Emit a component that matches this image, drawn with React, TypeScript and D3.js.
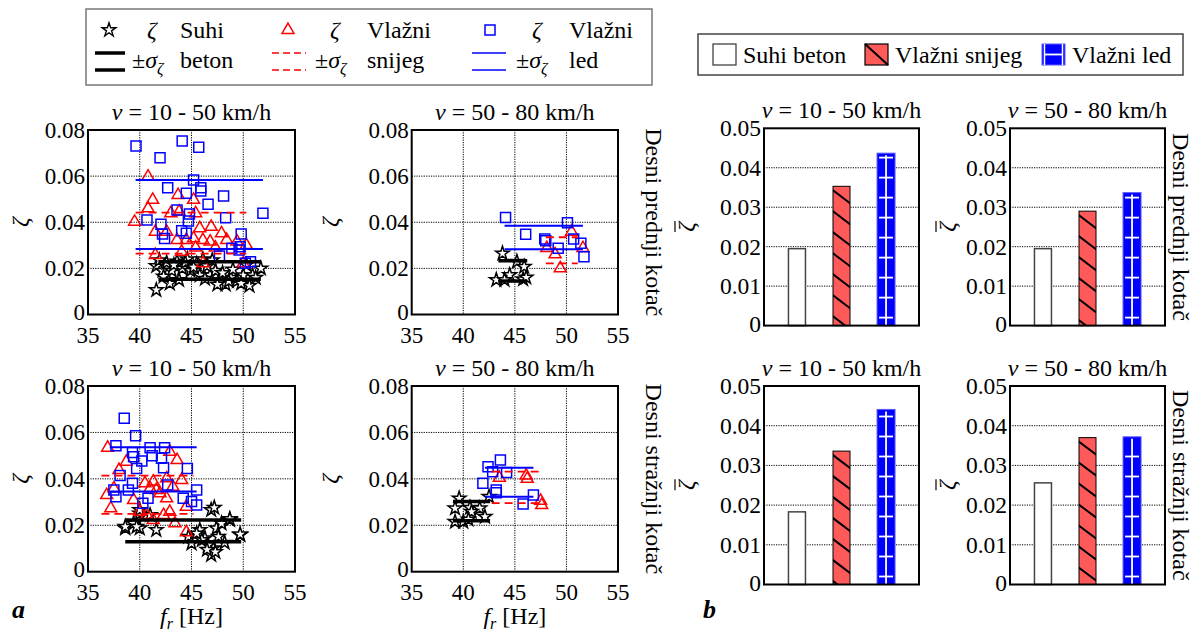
import React from 'react';
import * as d3 from 'd3';

// ---------- DATA ----------
// scatter points [f_r (Hz), zeta]; panels: frontLow (prednji, 10-50), frontHigh (prednji, 50-80), rearLow, rearHigh
const suhiFrontLow: [number, number][] = [
  [41.6, 0.0106], [42.9, 0.0135], [41.6, 0.021], [42.2, 0.019], [42.6, 0.0225], [43.1, 0.019], [43.6, 0.023],
  [44.1, 0.020], [44.6, 0.024], [44.9, 0.019], [45.5, 0.022], [46.1, 0.024], [46.8, 0.017], [47.3, 0.019],
  [47.8, 0.015], [48.3, 0.013], [48.8, 0.016], [49.4, 0.0145], [50.0, 0.017], [50.6, 0.0125], [50.9, 0.017],
  [51.7, 0.020], [42.3, 0.0165], [43.8, 0.015], [45.8, 0.017], [47.5, 0.013], [41.9, 0.0235], [43.3, 0.0215],
  [44.4, 0.0225], [45.2, 0.0205], [46.5, 0.021], [47.0, 0.0235], [48.0, 0.018], [49.0, 0.0195], [50.3, 0.0215],
  [51.2, 0.016], [49.8, 0.0135], [48.6, 0.0145], [46.3, 0.0155],
];
const snijegFrontLow: [number, number][] = [
  [40.8, 0.0598], [41.25, 0.0497], [40.8, 0.046], [39.5, 0.0402], [43.7, 0.0518], [45.2, 0.0497], [43.8, 0.0446],
  [43.0, 0.0439], [45.4, 0.0439], [46.9, 0.038], [41.5, 0.0359], [42.6, 0.0359], [45.8, 0.0374], [43.6, 0.0323],
  [44.5, 0.0323], [45.2, 0.033], [46.1, 0.0323], [46.8, 0.0316], [47.9, 0.0352], [48.4, 0.0323], [49.4, 0.0316],
  [50.3, 0.0301], [41.5, 0.0258], [46.1, 0.0222], [50.0, 0.0222], [44.05, 0.0272], [45.4, 0.029], [47.3, 0.029],
];
const ledFrontLow: [number, number][] = [
  [39.64, 0.0731], [41.96, 0.068], [44.1, 0.0752], [45.7, 0.0725], [45.2, 0.0583], [42.7, 0.055], [45.9, 0.055],
  [45.9, 0.0535], [44.5, 0.0526], [46.6, 0.0478], [48.1, 0.0514], [43.6, 0.0453], [44.8, 0.0436], [40.7, 0.041],
  [42.05, 0.0391], [44.7, 0.0405], [48.3, 0.042], [51.9, 0.0439], [42.2, 0.0349], [42.4, 0.033], [44.05, 0.0363],
  [44.5, 0.0352], [49.8, 0.0349], [48.9, 0.0287], [49.7, 0.0294], [49.6, 0.028], [47.7, 0.0254], [50.2, 0.0222],
  [50.7, 0.0229],
];
const suhiFrontHigh: [number, number][] = [
  [43.8, 0.0265], [45.2, 0.0229], [45.9, 0.0207], [44.5, 0.0171], [43.2, 0.015], [44.0, 0.015], [45.8, 0.0153],
  [46.1, 0.0161],
];
const snijegFrontHigh: [number, number][] = [
  [50.5, 0.0359], [48.1, 0.0288], [48.9, 0.0261], [49.4, 0.02], [51.6, 0.0288],
];
const ledFrontHigh: [number, number][] = [
  [44.1, 0.0421], [46.05, 0.0348], [47.9, 0.0327], [48.0, 0.032], [49.2, 0.0287], [50.1, 0.0398], [50.7, 0.0327],
  [51.4, 0.0309], [51.7, 0.025],
];
const suhiRearLow: [number, number][] = [
  [38.6, 0.0187], [39.4, 0.0208], [40.0, 0.0187], [41.6, 0.018], [40.0, 0.0251], [41.0, 0.0244], [44.7, 0.0151],
  [45.8, 0.018], [45.0, 0.0122], [46.3, 0.0144], [46.9, 0.0266], [47.4, 0.0187], [47.1, 0.0101], [46.9, 0.0072],
  [47.6, 0.0151], [48.7, 0.0223], [49.7, 0.0158], [47.9, 0.0208], [46.6, 0.0115], [46.0, 0.0137], [47.2, 0.0276],
  [48.7, 0.0227], [49.7, 0.0161], [38.6, 0.0194], [39.7, 0.0194], [40.0, 0.0266], [47.3, 0.0085], [46.5, 0.0095],
  [45.5, 0.0165], [48.2, 0.0125],
];
const snijegRearLow: [number, number][] = [
  [36.9, 0.0534], [38.0, 0.0438], [38.7, 0.0474], [37.5, 0.0359], [37.2, 0.0273], [40.5, 0.0381], [41.3, 0.0388],
  [41.0, 0.0359], [41.95, 0.0338], [42.6, 0.0402], [43.6, 0.0481], [42.9, 0.0517], [44.05, 0.0395], [39.4, 0.0309],
  [40.0, 0.0258], [40.7, 0.0244], [41.3, 0.0223], [42.3, 0.0244], [42.9, 0.0258], [43.4, 0.0208], [44.5, 0.017],
  [42.6, 0.0316], [44.5, 0.028], [36.8, 0.033], [41.6, 0.0352], [43.2, 0.0366],
];
const ledRearLow: [number, number][] = [
  [38.5, 0.0661], [39.6, 0.0586], [37.7, 0.0543], [39.3, 0.0513], [39.4, 0.0495], [41.0, 0.0534], [41.2, 0.05],
  [40.2, 0.0477], [39.7, 0.0445], [42.4, 0.0534], [42.1, 0.0489], [42.3, 0.0448], [44.6, 0.0445], [38.1, 0.0414],
  [37.5, 0.0352], [37.7, 0.0323], [38.9, 0.0352], [39.3, 0.0381], [40.3, 0.0295], [40.8, 0.0316], [42.7, 0.0374],
  [44.2, 0.0316], [45.0, 0.0302], [45.5, 0.0352], [45.5, 0.0287],
];
const suhiRearHigh: [number, number][] = [
  [39.6, 0.0316], [39.2, 0.0273], [40.65, 0.0276], [41.6, 0.0273], [39.2, 0.0215], [40.0, 0.0215], [40.8, 0.0258],
  [42.1, 0.0237], [42.5, 0.0323], [40.5, 0.0225],
];
const snijegRearHigh: [number, number][] = [
  [43.5, 0.0405], [46.1, 0.0414], [46.2, 0.04], [47.5, 0.0305], [47.6, 0.0287],
];
const ledRearHigh: [number, number][] = [
  [42.4, 0.0452], [43.6, 0.0481], [42.85, 0.0431], [44.2, 0.0427], [41.9, 0.0381], [43.2, 0.0352], [43.2, 0.034],
  [45.8, 0.0292], [46.8, 0.033],
];

// ±sigma bands per panel [fStart, fEnd, lower, upper] (order: frontLow, frontHigh, rearLow, rearHigh)
const sigmaSuhi = [[41.8, 51.7, 0.0153, 0.0229], [43.4, 46.2, 0.0145, 0.0233], [38.6, 49.8, 0.0129, 0.0223], [39.0, 42.6, 0.022, 0.0302]];
const sigmaSnijeg = [[39.6, 50.3, 0.0264, 0.0442], [48.0, 51.1, 0.0222, 0.0335], [36.3, 45.2, 0.0249, 0.0414], [42.75, 47.6, 0.0295, 0.0431]];
const sigmaLed = [[39.6, 51.9, 0.0284, 0.0583], [44.0, 51.6, 0.0283, 0.0385], [37.1, 45.5, 0.0345, 0.0536], [42.1, 46.8, 0.0323, 0.0448]];

const xTicks = [35, 40, 45, 50, 55];
const yTicksScatter = [0, 0.02, 0.04, 0.06, 0.08];
const yTicksBar = [0, 0.01, 0.02, 0.03, 0.04, 0.05];

// bar chart mean zeta
const barCategories = ['Suhi beton', 'Vlažni snijeg', 'Vlažni led'];
const barFrontLow = [0.0195, 0.0353, 0.0437];
const barFrontHigh = [0.0195, 0.029, 0.0337];
const barRearLow = [0.0183, 0.0336, 0.0441];
const barRearHigh = [0.0256, 0.0370, 0.0372];

const speedTitles = ['10 - 50 km/h', '50 - 80 km/h'];
const wheelTitles = ['Desni prednji kotač', 'Desni stražnji kotač'];

// ---------- STYLE ----------
const FONT = "'Liberation Serif', 'Times New Roman', serif";
const RED = '#ff0000';
const BLUE = '#0000ff';
const SNOW = '#ff5a5a';

type Box = { x0: number; x1: number; y0: number; y1: number };

const scatterBoxes: Box[] = [
  { x0: 88, x1: 295, y0: 130, y1: 314.5 },
  { x0: 411.7, x1: 618, y0: 130, y1: 314.5 },
  { x0: 88, x1: 295, y0: 386, y1: 571.7 },
  { x0: 411.7, x1: 618, y0: 386, y1: 571.7 },
];
const barBoxes: Box[] = [
  { x0: 764, x1: 919, y0: 128.3, y1: 325.6 },
  { x0: 1010, x1: 1165, y0: 128.3, y1: 325.6 },
  { x0: 764, x1: 919, y0: 386, y1: 584.5 },
  { x0: 1010, x1: 1165, y0: 386, y1: 584.5 },
];

const starPath = d3.symbol().type(d3.symbolStar).size(58)()!;
const triPath = d3.symbol().type(d3.symbolTriangle).size(62)()!;
const sqPath = d3.symbol().type(d3.symbolSquare).size(100)()!;

function Title({ cx, y, text }: { cx: number; y: number; text: string }) {
  return (
    <text x={cx} y={y} textAnchor="middle" fontSize={24} fontFamily={FONT}>
      <tspan fontStyle="italic">v</tspan> = {text}
    </text>
  );
}

function ScatterPanel({ box, idx }: { box: Box; idx: number }) {
  const x = d3.scaleLinear().domain([35, 55]).range([box.x0, box.x1]);
  const y = d3.scaleLinear().domain([0, 0.08]).range([box.y1, box.y0]);
  const sets = [
    [suhiFrontLow, snijegFrontLow, ledFrontLow],
    [suhiFrontHigh, snijegFrontHigh, ledFrontHigh],
    [suhiRearLow, snijegRearLow, ledRearLow],
    [suhiRearHigh, snijegRearHigh, ledRearHigh],
  ][idx];
  const row = idx < 2 ? 0 : 1;
  const col = idx % 2;
  const sS = sigmaSuhi[idx];
  const sN = sigmaSnijeg[idx];
  const sL = sigmaLed[idx];
  return (
    <g fontFamily={FONT}>
      {xTicks.slice(1, -1).map((t) => (
        <line key={'gx' + t} x1={x(t)} x2={x(t)} y1={box.y0} y2={box.y1} stroke="#000" strokeWidth={1} strokeDasharray="1.2 1.2" />
      ))}
      {yTicksScatter.slice(1, -1).map((t) => (
        <line key={'gy' + t} x1={box.x0} x2={box.x1} y1={y(t)} y2={y(t)} stroke="#000" strokeWidth={1} strokeDasharray="1.2 1.2" />
      ))}
      {sets[0].map((d, i) => (
        <path key={'s' + i} d={starPath} transform={`translate(${x(d[0])},${y(d[1])})`} fill="#fff" stroke="#000" strokeWidth={1.5} />
      ))}
      {sets[1].map((d, i) => (
        <path key={'t' + i} d={triPath} transform={`translate(${x(d[0])},${y(d[1])})`} fill="none" stroke={RED} strokeWidth={1.5} />
      ))}
      {sets[2].map((d, i) => (
        <path key={'q' + i} d={sqPath} transform={`translate(${x(d[0])},${y(d[1])})`} fill="none" stroke={BLUE} strokeWidth={1.5} />
      ))}
      {[sS[2], sS[3]].map((v, i) => (
        <line key={'ls' + i} x1={x(sS[0])} x2={x(sS[1])} y1={y(v)} y2={y(v)} stroke="#000" strokeWidth={3.5} />
      ))}
      {[sN[2], sN[3]].map((v, i) => (
        <line key={'ln' + i} x1={x(sN[0])} x2={x(sN[1])} y1={y(v)} y2={y(v)} stroke={RED} strokeWidth={1.8} strokeDasharray="8 5" />
      ))}
      {[sL[2], sL[3]].map((v, i) => (
        <line key={'ll' + i} x1={x(sL[0])} x2={x(sL[1])} y1={y(v)} y2={y(v)} stroke={BLUE} strokeWidth={2} />
      ))}
      <rect x={box.x0} y={box.y0} width={box.x1 - box.x0} height={box.y1 - box.y0} fill="none" stroke="#000" strokeWidth={2} />
      {yTicksScatter.map((t) => (
        <text key={'yl' + t} x={box.x0 - 3} y={y(t) + (t === 0 ? 5 : 8)} textAnchor="end" fontSize={23}>
          {t === 0 ? '0' : d3.format('.2f')(t)}
        </text>
      ))}
      {xTicks.map((t) => (
        <text key={'xl' + t} x={x(t)} y={box.y1 + 28} textAnchor="middle" fontSize={23}>
          {t}
        </text>
      ))}
      <Title cx={(box.x0 + box.x1) / 2} y={box.y0 - 10} text={speedTitles[col]} />
      <text transform={`translate(${box.x0 - (col === 0 ? 60 : 74)},${(box.y0 + box.y1) / 2}) rotate(-90)`} textAnchor="middle" fontSize={24} fontStyle="italic">
        ζ
      </text>
      {row === 1 && (
        <text x={(box.x0 + box.x1) / 2} y={box.y1 + 52} textAnchor="middle" fontSize={24}>
          <tspan fontStyle="italic">f</tspan>
          <tspan fontStyle="italic" fontSize={16} dy={5}>r</tspan>
          <tspan dy={-5}> [Hz]</tspan>
        </text>
      )}
      {col === 1 && (
        <text transform={`translate(${box.x1 + 28},${(box.y0 + box.y1) / 2}) rotate(90)`} textAnchor="middle" fontSize={24}>
          {wheelTitles[row]}
        </text>
      )}
    </g>
  );
}

function BarPanel({ box, idx }: { box: Box; idx: number }) {
  const values = [barFrontLow, barFrontHigh, barRearLow, barRearHigh][idx];
  const row = idx < 2 ? 0 : 1;
  const col = idx % 2;
  const x = d3.scalePoint<string>().domain(barCategories).range([box.x0, box.x1]).padding(0.74);
  const y = d3.scaleLinear().domain([0, 0.05]).range([box.y1, box.y0]);
  const bw = 17;
  const clipBase = `barclip-${idx}`;
  return (
    <g fontFamily={FONT}>
      {yTicksBar.slice(1, -1).map((t) => (
        <line key={'gy' + t} x1={box.x0} x2={box.x1} y1={y(t)} y2={y(t)} stroke="#000" strokeWidth={1} strokeDasharray="1.2 1.2" />
      ))}
      {values.map((v, i) => {
        const cx = x(barCategories[i])!;
        const bx = cx - bw / 2;
        const top = y(v);
        const h = box.y1 - top;
        const id = `${clipBase}-${i}`;
        if (i === 0) {
          return <rect key={i} x={bx} y={top} width={bw} height={h} fill="#fff" stroke="#444" strokeWidth={1.5} />;
        }
        if (i === 1) {
          const lines = d3.range(-1, Math.ceil(h / 21) + 1).map((k) => top + 4 + k * 21);
          return (
            <g key={i}>
              <clipPath id={id}>
                <rect x={bx} y={top} width={bw} height={h} />
              </clipPath>
              <rect x={bx} y={top} width={bw} height={h} fill={SNOW} />
              <g clipPath={`url(#${id})`}>
                {lines.map((ly, k) => (
                  <line key={k} x1={bx - 2} y1={ly - 1.5} x2={bx + bw + 2} y2={ly + 14.5} stroke="#000" strokeWidth={2} />
                ))}
              </g>
              <rect x={bx} y={top} width={bw} height={h} fill="none" stroke="#000" strokeWidth={1} />
            </g>
          );
        }
        const hl = d3.range(0, Math.floor(h / 20) + 1).map((k) => box.y1 - 8 - k * 20).filter((ly) => ly > top + 3);
        return (
          <g key={i}>
            <rect x={bx - 0.5} y={top} width={bw + 1} height={h} fill={BLUE} stroke="#5a5aff" strokeWidth={1} />
            <line x1={cx} x2={cx} y1={top + 2} y2={box.y1} stroke="#fff" strokeWidth={1.8} />
            {hl.map((ly, k) => (
              <line key={k} x1={bx + 1.5} x2={bx + bw - 1.5} y1={ly} y2={ly} stroke="#fff" strokeWidth={1.8} />
            ))}
          </g>
        );
      })}
      <rect x={box.x0} y={box.y0} width={box.x1 - box.x0} height={box.y1 - box.y0} fill="none" stroke="#000" strokeWidth={2} />
      {yTicksBar.map((t) => (
        <text key={'yl' + t} x={box.x0 - 3} y={y(t) + (t === 0 ? 6 : 8)} textAnchor="end" fontSize={23.5}>
          {t === 0 ? '0' : d3.format('.2f')(t)}
        </text>
      ))}
      <Title cx={(box.x0 + box.x1) / 2} y={box.y0 - 10} text={speedTitles[col]} />
      <g transform={`translate(${box.x0 - (col === 0 ? 70 : 55)},${(box.y0 + box.y1) / 2}) rotate(-90)`}>
        <text textAnchor="middle" fontSize={24} fontStyle="italic">ζ</text>
        <line x1={-5} x2={6} y1={-19} y2={-19} stroke="#000" strokeWidth={1.2} />
      </g>
      {col === 1 && (
        <text transform={`translate(${box.x1 + 8},${(box.y0 + box.y1) / 2}) rotate(90)`} textAnchor="middle" fontSize={24}>
          {wheelTitles[row]}
        </text>
      )}
    </g>
  );
}

function Sigma({ x, y }: { x: number; y: number }) {
  return (
    <text x={x} y={y} fontSize={24} fontFamily={FONT}>
      ±<tspan fontStyle="italic">σ</tspan>
      <tspan fontStyle="italic" fontSize={16} dy={6}>ζ</tspan>
    </text>
  );
}

function LeftLegend() {
  const r1 = 38;
  const r2 = 68;
  return (
    <g fontFamily={FONT} fontSize={24}>
      <rect x={86} y={9} width={566} height={76} fill="#fff" stroke="#777" strokeWidth={1.5} />
      <path d={starPath} transform={`translate(109,${r1 - 8})`} fill="#fff" stroke="#000" strokeWidth={1.4} />
      <text x={147} y={r1} fontStyle="italic">ζ</text>
      <text x={180} y={r1}>Suhi</text>
      <path d={triPath} transform={`translate(288,${r1 - 8})`} fill="none" stroke={RED} strokeWidth={1.5} />
      <text x={330} y={r1} fontStyle="italic">ζ</text>
      <text x={367} y={r1}>Vlažni</text>
      <path d={sqPath} transform={`translate(490,${r1 - 8})`} fill="none" stroke={BLUE} strokeWidth={1.5} />
      <text x={532} y={r1} fontStyle="italic">ζ</text>
      <text x={569} y={r1}>Vlažni</text>

      <line x1={95} x2={125} y1={r2 - 15} y2={r2 - 15} stroke="#000" strokeWidth={3.5} />
      <line x1={95} x2={125} y1={r2 + 2} y2={r2 + 2} stroke="#000" strokeWidth={3.5} />
      <Sigma x={132} y={r2} />
      <text x={180} y={r2}>beton</text>
      <line x1={272} x2={306} y1={r2 - 15} y2={r2 - 15} stroke={RED} strokeWidth={1.5} strokeDasharray="7 4" />
      <line x1={272} x2={306} y1={r2 + 2} y2={r2 + 2} stroke={RED} strokeWidth={1.5} strokeDasharray="7 4" />
      <Sigma x={315} y={r2} />
      <text x={367} y={r2}>snijeg</text>
      <line x1={472} x2={506} y1={r2 - 15} y2={r2 - 15} stroke={BLUE} strokeWidth={1.5} />
      <line x1={472} x2={506} y1={r2 + 2} y2={r2 + 2} stroke={BLUE} strokeWidth={1.5} />
      <Sigma x={516} y={r2} />
      <text x={569} y={r2}>led</text>
    </g>
  );
}

function RightLegend() {
  const ty = 63;
  return (
    <g fontFamily={FONT} fontSize={24}>
      <rect x={698} y={34} width={485} height={41} fill="#fff" stroke="#444" strokeWidth={1.5} />
      <rect x={713} y={44} width={23} height={21} fill="#fff" stroke="#333" strokeWidth={1.2} />
      <text x={743} y={ty}>{barCategories[0]}</text>
      <rect x={865} y={44} width={23} height={21} fill={SNOW} stroke="#000" strokeWidth={1.2} />
      <line x1={865} y1={44} x2={888} y2={65} stroke="#000" strokeWidth={2} />
      <text x={895} y={ty}>{barCategories[1]}</text>
      <rect x={1042} y={44} width={23} height={21} fill={BLUE} stroke="#5a5aff" strokeWidth={1} />
      <line x1={1044.5} x2={1044.5} y1={44} y2={65} stroke="#fff" strokeWidth={1.5} />
      <line x1={1062.5} x2={1062.5} y1={44} y2={65} stroke="#fff" strokeWidth={1.5} />
      <line x1={1044} x2={1063} y1={54.5} y2={54.5} stroke="#fff" strokeWidth={1.8} />
      <text x={1072} y={ty}>{barCategories[2]}</text>
    </g>
  );
}

export default function App() {
  return (
    <svg width={1203} height={634} style={{ position: 'absolute', left: 0, top: 0, background: '#fff' }}>
      <rect width={1203} height={634} fill="#fff" />
      <LeftLegend />
      <RightLegend />
      {scatterBoxes.map((b, i) => (
        <ScatterPanel key={'sp' + i} box={b} idx={i} />
      ))}
      {barBoxes.map((b, i) => (
        <BarPanel key={'bp' + i} box={b} idx={i} />
      ))}
      <text x={12} y={618} fontSize={26} fontWeight="bold" fontStyle="italic" fontFamily={FONT}>a</text>
      <text x={703} y={618} fontSize={26} fontWeight="bold" fontStyle="italic" fontFamily={FONT}>b</text>
    </svg>
  );
}
